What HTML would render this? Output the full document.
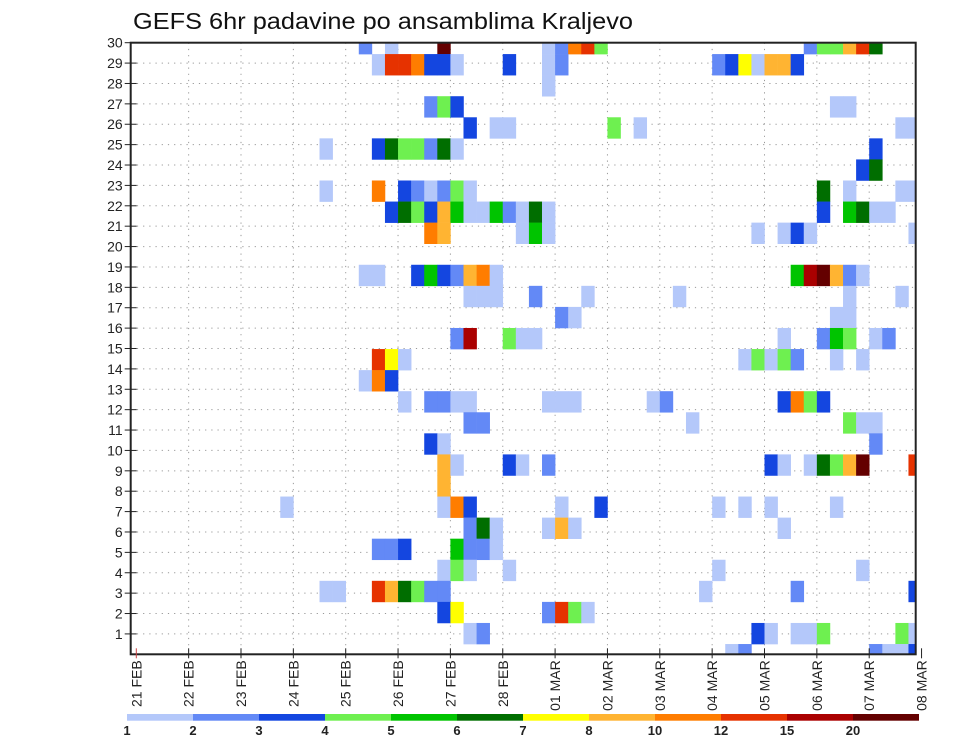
<!DOCTYPE html>
<html><head><meta charset="utf-8"><style>
html,body{margin:0;padding:0;background:#fff;}
svg{display:block;font-family:"Liberation Sans",sans-serif;}
</style></head><body>
<svg id="chart" width="960" height="742" viewBox="0 0 960 742" xmlns="http://www.w3.org/2000/svg">
<rect x="0" y="0" width="960" height="742" fill="#fff"/>
<text x="133" y="29" font-size="23" textLength="500" lengthAdjust="spacingAndGlyphs" fill="#111">GEFS 6hr padavine po ansamblima Kraljevo</text>
<defs><clipPath id="plotclip"><rect x="131" y="42.7" width="785" height="611.6"/></clipPath></defs>
<g id="grid"></g>
<g id="cells" clip-path="url(#plotclip)"></g>
<rect x="130.7" y="42.7" width="785" height="611.6" fill="none" stroke="#222" stroke-width="2"/>
<g id="yaxis"></g>
<g id="xaxis"></g>
<g id="legend"></g>
</svg>
<script>
// ---- data ----
const dayLabels = ["21 FEB","22 FEB","23 FEB","24 FEB","25 FEB","26 FEB","27 FEB","28 FEB","01 MAR","02 MAR","03 MAR","04 MAR","05 MAR","06 MAR","07 MAR","08 MAR"];
const memberTicks = [1,2,3,4,5,6,7,8,9,10,11,12,13,14,15,16,17,18,19,20,21,22,23,24,25,26,27,28,29,30];
const legendLabels = ["1","2","3","4","5","6","7","8","10","12","15","20"];
const levelColors = ["#b4c8fa","#6389f6","#1446e0","#6ef050","#00c400","#006e00","#ffff00","#ffb432","#ff7d00","#e63200","#aa0000","#640000"];
// heatmap rows, top to bottom: "column:level" (level 1..9,a,b,c = colour bin)
const rowCells = [
"17:2 19:1 23:c 31:1 32:2 33:9 34:a 35:4 51:2 52:4 53:4 54:8 55:a 56:6",
"18:1 19:a 20:a 21:9 22:3 23:3 24:1 28:3 31:1 32:2 44:2 45:3 46:7 47:1 48:8 49:8 50:3",
"31:1",
"22:2 23:4 24:3 53:1 54:1",
"25:3 27:1 28:1 36:4 38:1 58:1 59:1",
"14:1 18:3 19:6 20:4 21:4 22:2 23:6 24:1 56:3",
"55:3 56:6",
"14:1 18:9 20:3 21:2 22:1 23:2 24:4 25:1 52:6 54:1 58:1 59:1",
"19:3 20:6 21:4 22:3 23:8 24:5 25:1 26:1 27:5 28:2 29:1 30:6 31:1 52:3 54:5 55:6 56:1 57:1",
"22:9 23:8 29:1 30:5 31:1 47:1 49:1 50:3 51:1 59:1",
"",
"17:1 18:1 21:3 22:5 23:3 24:2 25:8 26:9 27:1 50:5 51:b 52:c 53:8 54:2 55:1",
"25:1 26:1 27:1 30:2 34:1 41:1 54:1 58:1",
"32:2 33:1 53:1 54:1",
"24:2 25:b 28:4 29:1 30:1 49:1 52:2 53:5 54:4 56:1 57:2",
"18:a 19:7 20:1 46:1 47:4 48:1 49:4 50:2 53:1 55:1",
"17:1 18:9 19:3",
"20:1 22:2 23:2 24:1 25:1 31:1 32:1 33:1 39:1 40:2 49:3 50:9 51:4 52:3",
"25:2 26:2 42:1 54:4 55:1 56:1",
"22:3 23:1 56:2",
"23:8 24:1 28:3 29:1 31:2 48:3 49:1 51:1 52:6 53:4 54:8 55:c 59:a",
"23:8",
"11:1 23:1 24:9 25:3 32:1 35:3 44:1 46:1 48:1 53:1",
"25:2 26:6 27:1 31:1 32:8 33:1 49:1",
"18:2 19:2 20:3 24:5 25:2 26:2 27:1",
"23:1 24:4 25:1 28:1 44:1 55:1",
"14:1 15:1 18:a 19:8 20:6 21:4 22:2 23:2 43:1 50:2 59:3",
"23:3 24:7 31:2 32:a 33:4 34:1",
"25:1 26:2 47:3 48:1 50:1 51:1 52:4 58:4 59:1",
"45:1 46:2 56:2 57:1 58:1 59:3"
];
// ---- scales ----
const NS="http://www.w3.org/2000/svg";
const X0=136.3, DAYW=52.35, STEPS=4, CELLW=DAYW/STEPS;
const PL=130.7, PR=915.7, PT=42.7, PB=654.3;
function xDay(d){return X0+d*DAYW;}
function xStep(j){return X0+j*CELLW;}
function yMember(r){return PB-(PB-PT)*r/30;}
const ROW0=33, ROWH=21.07;
function yRow(k){return ROW0+k*ROWH;}
function mk(tag,attrs,parent){const e=document.createElementNS(NS,tag);for(const k in attrs)e.setAttribute(k,attrs[k]);parent.appendChild(e);return e;}

const grid=document.getElementById('grid');
memberTicks.forEach(r=>{
  if(r>=30) return;
  const l=mk('line',{x1:PL,x2:PR,y1:yMember(r),y2:yMember(r),stroke:'#999','stroke-width':1,'stroke-dasharray':'1.2 5'},grid);
  
  
});
dayLabels.forEach((d,i)=>{
  if(i===0||i===dayLabels.length-1) return;
  const l=mk('line',{x1:xDay(i),x2:xDay(i),y1:PT,y2:PB,stroke:'#999','stroke-width':1,'stroke-dasharray':'1.2 5'},grid);
  
  
});

const cells=document.getElementById('cells');
const codes="123456789abc";
rowCells.forEach((row,k)=>{
  row.split(/\s+/).filter(s=>s).forEach(p=>{
    const [c,l]=p.split(':');
    const lev=codes.indexOf(l);
    const r=mk('rect',{x:xStep(+c),y:yRow(k),width:CELLW+0.3,height:ROWH+0.3,fill:levelColors[lev]},cells);
    
    
  });
});

const yaxis=document.getElementById('yaxis');
memberTicks.forEach(r=>{
  const y=yMember(r);
  mk('line',{x1:PL-6,x2:PL+6,y1:y,y2:y,stroke:'#222','stroke-width':1},yaxis);
  const t=mk('text',{x:PL-8,y:y+5,'font-size':14,'text-anchor':'end',fill:'#222'},yaxis);
  t.textContent=r;
  
  
});

const xaxis=document.getElementById('xaxis');
dayLabels.forEach((d,i)=>{
  const x=xDay(i);
  mk('line',{x1:x,x2:x,y1:PB-6,y2:PB+4,stroke:i===0?'#c44':'#222','stroke-width':1},xaxis);
  const t=mk('text',{x:0,y:0,'font-size':14,'text-anchor':'end',fill:'#222',transform:`translate(${x+5},${PB+6}) rotate(-90)`},xaxis);
  t.textContent=d;
  
  
});

const legend=document.getElementById('legend');
const LX=127, LW=66, LY=714, LH=6.7;
levelColors.forEach((c,i)=>{
  const r=mk('rect',{x:LX+i*LW,y:LY,width:LW,height:LH,fill:c},legend);
  
  
});
legendLabels.forEach((s,i)=>{
  const t=mk('text',{x:LX+i*LW,y:LY+21,'font-size':13,'font-weight':'bold','text-anchor':'middle',fill:'#222'},legend);
  t.textContent=s;
  
  
});
</script>
</body></html>
